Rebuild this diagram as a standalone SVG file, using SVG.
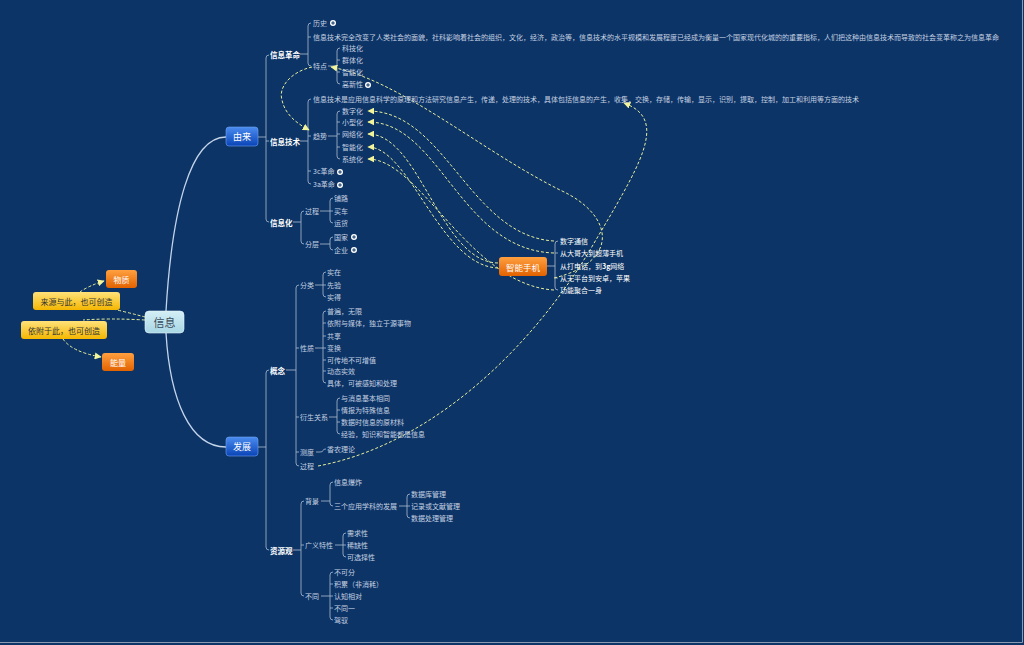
<svg xmlns="http://www.w3.org/2000/svg" width="1024" height="645" viewBox="0 0 1024 645">
<style>
.t{font-family:"Noto Sans CJK SC","Noto Sans",sans-serif;font-size:7px;fill:#c6d1e2;dominant-baseline:central}
.b{font-weight:bold;fill:#ffffff;font-size:7.5px}
.w{fill:#ffffff}
.bx{font-family:"Noto Sans CJK SC","Noto Sans",sans-serif;dominant-baseline:central;text-anchor:middle}
.br{fill:none;stroke:#aebcd2;stroke-width:0.8}
.main{fill:none;stroke:#c4d4ea;stroke-width:1.3}
.cn{fill:none;stroke:#e8ef9c;stroke-width:1;stroke-dasharray:3 2}
</style>
<defs>
<linearGradient id="gBlue" x1="0" y1="0" x2="0" y2="1"><stop offset="0" stop-color="#4a8cf0"/><stop offset="1" stop-color="#0a44b6"/></linearGradient>
<linearGradient id="gOr" x1="0" y1="0" x2="0" y2="1"><stop offset="0" stop-color="#ffa040"/><stop offset="1" stop-color="#e26200"/></linearGradient>
<linearGradient id="gYe" x1="0" y1="0" x2="0" y2="1"><stop offset="0" stop-color="#ffe27a"/><stop offset="1" stop-color="#f4b600"/></linearGradient>
<linearGradient id="gCy" x1="0" y1="0" x2="0" y2="1"><stop offset="0" stop-color="#d4eff6"/><stop offset="1" stop-color="#a8d6e4"/></linearGradient>
<marker id="ah" viewBox="0 0 10 10" refX="9" refY="5" markerWidth="7" markerHeight="7" orient="auto" markerUnits="userSpaceOnUse"><path d="M0,0 L10,5 L0,10 z" fill="#f2f59a"/></marker>
<g id="plus"><circle r="3" fill="#ffffff"/><path d="M-1.8,0H1.8M0,-1.8V1.8" stroke="#0c3466" stroke-width="1"/></g>
</defs>
<rect width="1024" height="645" fill="#0c3466"/>
<path d="M1022.5,0V642.5H0" fill="none" stroke="#8a9ab0" stroke-width="1"/>

<g id="main-branches">
<path class="main" d="M166,311 C172,210 190,137 226,137"/>
<path class="main" d="M166,333 C170,400 190,447 226,447"/>
</g>

<g id="brackets">
<path class="br" d="M258,137H266 M269,55 Q266,55 266,58 V219 Q266,222 269,222 M266,141h3"/>
<path class="br" d="M300,54H308 M311,23 Q308,23 308,26 V63 Q308,66 311,66 M308,37h3"/>
<path class="br" d="M328,66H337 M340,48 Q337,48 337,51 V81 Q337,84 340,84 M337,60h3 M337,72h3"/>
<path class="br" d="M300,141H308 M311,99 Q308,99 308,102 V181 Q308,184 311,184 M308,136h3 M308,171h3"/>
<path class="br" d="M328,136H337 M340,111 Q337,111 337,114 V156 Q337,159 340,159 M337,122h3 M337,134h3 M337,147h3"/>
<path class="br" d="M293,222H301 M304,211 Q301,211 301,214 V241 Q301,244 304,244"/>
<path class="br" d="M320,211H330 M333,198 Q330,198 330,201 V220 Q330,223 333,223 M330,211h3"/>
<path class="br" d="M320,244H330 M333,237 Q330,237 330,240 V247 Q330,250 333,250"/>
<path class="br" d="M258,447H266 M269,370 Q266,370 266,373 V547 Q266,550 269,550"/>
<path class="br" d="M286,370H296 M299,285 Q296,285 296,288 V463 Q296,466 299,466 M296,348h3 M296,417h3 M296,452h3"/>
<path class="br" d="M315,285H323 M326,272 Q323,272 323,275 V294 Q323,297 326,297 M323,285h3"/>
<path class="br" d="M315,348H323 M326,311 Q323,311 323,314 V380 Q323,383 326,383 M323,323h3 M323,336h3 M323,348h3 M323,360h3 M323,371h3"/>
<path class="br" d="M329,417H337 M340,398 Q337,398 337,401 V431 Q337,434 340,434 M337,410h3 M337,422h3"/>
<path class="br" d="M316,452H320 Q323,452 323,450.5 Q323,449 326,449"/>
<path class="br" d="M293,550H301 M304,501 Q301,501 301,504 V593 Q301,596 304,596 M301,545h3"/>
<path class="br" d="M321,501H330 M333,482 Q330,482 330,485 V503 Q330,506 333,506"/>
<path class="br" d="M399,506H407 M410,494 Q407,494 407,497 V515 Q407,518 410,518 M407,506h3"/>
<path class="br" d="M335,545H343 M346,533 Q343,533 343,536 V554 Q343,557 346,557 M343,545h3"/>
<path class="br" d="M321,596H330 M333,572 Q330,572 330,575 V617 Q330,620 333,620 M330,584h3 M330,596h3 M330,608h3"/>
<path class="br" d="M547,266H555 M558,241 Q555,241 555,244 V287 Q555,290 558,290 M555,253h3 M555,278h3"/>
</g>

<g id="connectors">
<path class="cn" d="M145,317 Q130,313 113,309"/>
<path class="cn" d="M80,292 Q88,286 104,281" marker-end="url(#ah)"/>
<path class="cn" d="M145,320 Q110,318 83,320"/>
<path class="cn" d="M63,339 Q72,352 101,357" marker-end="url(#ah)"/>
<path class="cn" d="M312,67 C290,72 278,88 282,100 C285,115 298,124 309,130" marker-end="url(#ah)"/>
<path class="cn" d="M554,241 C470,236 445,111 368,111" marker-end="url(#ah)"/>
<path class="cn" d="M554,253 C460,250 440,122 368,122" marker-end="url(#ah)"/>
<path class="cn" d="M498,263 C440,262 420,134 368,134" marker-end="url(#ah)"/>
<path class="cn" d="M498,268 C440,266 410,147 368,147" marker-end="url(#ah)"/>
<path class="cn" d="M554,290 C470,285 420,159 368,159" marker-end="url(#ah)"/>
<path class="cn" d="M554,278 C620,262 615,215 560,190 C480,150 400,80 331,67" marker-end="url(#ah)"/>
<path class="cn" d="M318,466 C430,445 530,350 590,250 C640,165 670,120 624,103" marker-end="url(#ah)"/>
</g>

<g id="node-xinxi"><rect x="145" y="311" width="39" height="22" rx="4" fill="url(#gCy)" stroke="#e4f6fb" stroke-width="0.6"/><text class="bx" x="164.5" y="322" font-size="11" fill="#3a4a5a">信息</text></g>
<g id="node-youlai"><rect x="226" y="127" width="32" height="19" rx="3" fill="url(#gBlue)" stroke="#6fa3f5" stroke-width="0.6"/><text class="bx" x="242" y="136.5" font-size="9" fill="#ffffff">由来</text></g>
<g id="node-fazhan"><rect x="226" y="437" width="32" height="19" rx="3" fill="url(#gBlue)" stroke="#6fa3f5" stroke-width="0.6"/><text class="bx" x="242" y="446.5" font-size="9" fill="#ffffff">发展</text></g>
<g id="node-wuzhi"><rect x="106" y="270" width="31" height="18" rx="3" fill="url(#gOr)"/><text class="bx" x="121.5" y="279" font-size="8" fill="#ffffff">物质</text></g>
<g id="node-nengliang"><rect x="102" y="353" width="32" height="18" rx="3" fill="url(#gOr)"/><text class="bx" x="118" y="362" font-size="8" fill="#ffffff">能量</text></g>
<g id="label-laiyuan"><rect x="33" y="292" width="87" height="18" rx="3" fill="url(#gYe)"/><text class="bx" x="76.5" y="301" font-size="8" fill="#333333">来源与此，也可创造</text></g>
<g id="label-yifu"><rect x="21" y="321" width="86" height="18" rx="3" fill="url(#gYe)"/><text class="bx" x="64" y="330" font-size="8" fill="#333333">依附于此，也可创造</text></g>
<g id="node-phone"><rect x="499" y="257" width="48" height="19" rx="3" fill="url(#gOr)"/><text class="bx" x="523" y="266.5" font-size="8.5" fill="#ffffff">智能手机</text></g>

<g id="node-geming">
<text class="t b" x="270" y="54">信息革命</text>
<text class="t" x="313" y="23">历史</text><use href="#plus" x="333" y="23"/>
<text class="t" x="313" y="37">信息技术完全改变了人类社会的面貌，社科影响着社会的组织，文化，经济，政治等，信息技术的水平规模和发展程度已经成为衡量一个国家现代化城的的重要指标，人们把这种由信息技术而导致的社会变革称之为信息革命</text>
<text class="t" x="313" y="66">特点</text>
<text class="t" x="342" y="48">科技化</text>
<text class="t" x="342" y="60">群体化</text>
<text class="t" x="342" y="72">智能化</text>
<text class="t" x="342" y="84">高新性</text><use href="#plus" x="368" y="85"/>
</g>
<g id="node-jishu">
<text class="t b" x="270" y="141">信息技术</text>
<text class="t" x="313" y="99">信息技术是应用信息科学的原理和方法研究信息产生，传递，处理的技术，具体包括信息的产生，收集，交换，存储，传输，显示，识别，提取，控制，加工和利用等方面的技术</text>
<text class="t" x="313" y="136">趋势</text>
<text class="t" x="342" y="111">数字化</text>
<text class="t" x="342" y="122">小型化</text>
<text class="t" x="342" y="134">网络化</text>
<text class="t" x="342" y="147">智能化</text>
<text class="t" x="342" y="159">系统化</text>
<text class="t" x="313" y="171">3c革命</text><use href="#plus" x="340" y="172"/>
<text class="t" x="313" y="184">3a革命</text><use href="#plus" x="340" y="185"/>
</g>
<g id="node-xinxihua">
<text class="t b" x="270" y="222">信息化</text>
<text class="t" x="305" y="211">过程</text>
<text class="t" x="305" y="244">分层</text>
<text class="t" x="334" y="198">铺路</text>
<text class="t" x="334" y="211">买车</text>
<text class="t" x="334" y="223">运货</text>
<text class="t" x="334" y="237">国家</text><use href="#plus" x="354" y="237"/>
<text class="t" x="334" y="250">企业</text><use href="#plus" x="354" y="250"/>
</g>
<g id="node-gainian">
<text class="t b" x="270" y="370">概念</text>
<text class="t" x="300" y="285">分类</text>
<text class="t" x="300" y="348">性质</text>
<text class="t" x="300" y="417">衍生关系</text>
<text class="t" x="300" y="452">测度</text>
<text class="t" x="300" y="466">过程</text>
<text class="t" x="327" y="272">实在</text>
<text class="t" x="327" y="285">先验</text>
<text class="t" x="327" y="297">实得</text>
<text class="t" x="327" y="311">普遍，无限</text>
<text class="t" x="327" y="323">依附与媒体，独立于源事物</text>
<text class="t" x="327" y="336">共享</text>
<text class="t" x="327" y="348">变换</text>
<text class="t" x="327" y="360">可传地不可增值</text>
<text class="t" x="327" y="371">动态实效</text>
<text class="t" x="327" y="383">具体，可被感知和处理</text>
<text class="t" x="341" y="398">与消息基本相同</text>
<text class="t" x="341" y="410">情报为特殊信息</text>
<text class="t" x="341" y="422">数据时信息的原材料</text>
<text class="t" x="341" y="434">经验，知识和智能都是信息</text>
<text class="t" x="327" y="449">香农理论</text>
</g>
<g id="node-ziyuan">
<text class="t b" x="270" y="550">资源观</text>
<text class="t" x="305" y="501">背景</text>
<text class="t" x="305" y="545">广义特性</text>
<text class="t" x="305" y="596">不同</text>
<text class="t" x="334" y="482">信息爆炸</text>
<text class="t" x="334" y="506">三个应用学科的发展</text>
<text class="t" x="411" y="494">数据库管理</text>
<text class="t" x="411" y="506">记录或文献管理</text>
<text class="t" x="411" y="518">数据处理管理</text>
<text class="t" x="347" y="533">需求性</text>
<text class="t" x="347" y="545">稀缺性</text>
<text class="t" x="347" y="557">可选择性</text>
<text class="t" x="334" y="572">不可分</text>
<text class="t" x="334" y="584">积累（非消耗）</text>
<text class="t" x="334" y="596">认知相对</text>
<text class="t" x="334" y="608">不同一</text>
<text class="t" x="334" y="620">驾驭</text>
</g>
<g id="node-phone-items">
<text class="t w" x="560" y="241">数字通信</text>
<text class="t w" x="560" y="253">从大哥大到超薄手机</text>
<text class="t w" x="560" y="266">从打电话，到<tspan font-weight="bold">3g</tspan>网络</text>
<text class="t w" x="560" y="278">从无平台到安卓，苹果</text>
<text class="t w" x="560" y="290">功能聚合一身</text>
</g>
</svg>
